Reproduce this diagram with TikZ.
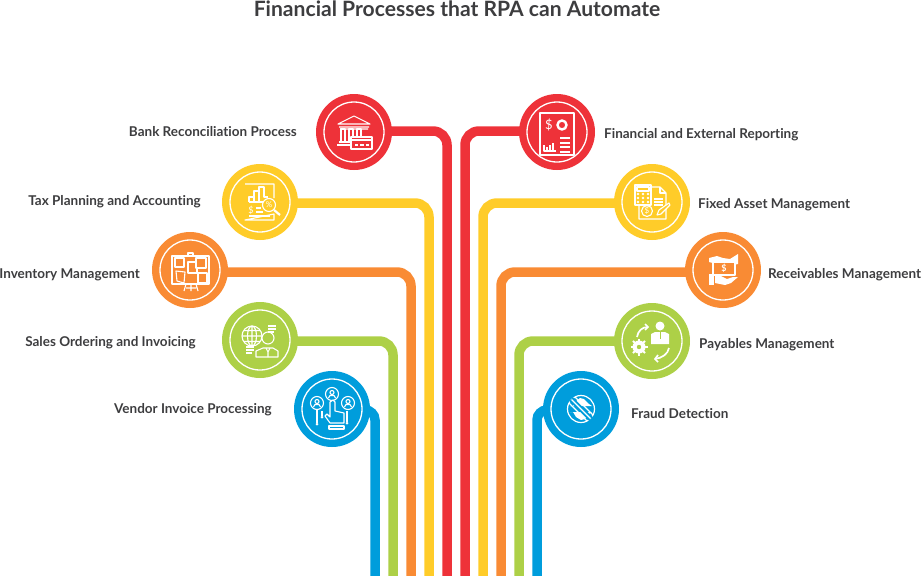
\documentclass[tikz,border=0pt]{standalone}
\usepackage{fontspec}
\setmainfont{Lato}[Ligatures=NoCommon]
\definecolor{cred}{HTML}{EE3239}
\definecolor{cyel}{HTML}{FFCC29}
\definecolor{cora}{HTML}{F98B34}
\definecolor{cgre}{HTML}{ADD047}
\definecolor{cblu}{HTML}{009DDC}
\definecolor{ctxt}{HTML}{3D3D3F}
\pgfdeclarelayer{bg}
\pgfsetlayers{bg,main}
\tikzset{
  disc/.style={circle,minimum size=76pt,inner sep=0pt,fill=#1},
  wire/.style={line width=9.5pt,draw=#1,rounded corners=14pt},
  labelL/.style={anchor=east,text=ctxt,font=\fontsize{13.5pt}{15pt}\selectfont\bfseries,inner sep=0pt},
  labelR/.style={anchor=west,text=ctxt,font=\fontsize{13.5pt}{15pt}\selectfont\bfseries,inner sep=0pt},
  ic/.style={draw=white,line width=1.1pt,line join=round},
  ring/.style={draw=white,line width=1.3pt}
}
\newcommand{\icbank}{
  \draw[ring] (0,0) circle[radius=30pt];
  \draw[ic] (-16,-8)--(0,-16)--(16,-8)--cycle (-15,-5)--(15,-5) (-14,-3)--(14,-3);
  \foreach \c in {-11,-3,5}{\draw[ic] (\c-2,-3) rectangle (\c+2,10);}
  \draw[ic] (-15,10)--(-3,10) (-17,13)--(-3,13);
  \draw[ic,fill=cred] (-3,5) rectangle (18,17);
  \draw[ic] (-3,8)--(18,8) (1,13)--(4,13) (6,13)--(10,13) (12,13)--(15,13);
}
\newcommand{\icreport}{
  \draw[ring] (0,0) circle[radius=30pt];
  \draw[ic] (-17,-19) rectangle (17,23);
  \node[text=white,font=\fontsize{13pt}{13pt}\selectfont,inner sep=0pt] at (-8,-7) {\$};
  \draw[white,line width=2.4pt] (5,-7) circle[radius=4.5pt];
  \draw[ic] (-13,13)--(-13,19)--(-1,19);
  \draw[white,line width=1.8pt] (-10,18)--(-10,15) (-7,18)--(-7,13) (-4,18)--(-4,11);
  \draw[white,line width=1.2pt] (3,6)--(13,6) (3,11)--(13,11) (3,15)--(13,15) (3,20)--(13,20);
}
\newcommand{\icasset}{
  \draw[ring] (0,0) circle[radius=30pt];
  \draw[ic] (-1,-15)--(8,-15)--(14,-9)--(14,17)--(-13,17)--(-13,3);
  \draw[ic] (8,-15)--(8,-9)--(14,-9);
  \draw[ic,fill=cyel] (-17,-17) rectangle (-1,3);
  \draw[ic] (-15,-15) rectangle (-3,-11);
  \foreach \px in {-14,-9,-4}{\foreach \py in {-8,-4,0}{\fill[white] (\px,\py) circle[radius=1.3pt];}}
  \draw[ic] (2,-3)--(11,-3) (2,0)--(11,0) (2,3)--(11,3);
  \draw[ic] (-5,9) circle[radius=5.5pt];
  \node[text=white,font=\fontsize{8pt}{8pt}\selectfont,inner sep=0pt] at (-5,9) {\$};
  \draw[ic,fill=cyel] (5,13)--(7,8)--(17,1)--(18,3)--(9,12)--cycle;
}
\newcommand{\ictax}{
  \draw[ring] (0,0) circle[radius=30pt];
  \draw[ic] (-15,-18)--(14,-18)--(14,-4) (14,12)--(14,18)--(-15,18)--cycle;
  \draw[ic] (-11,0)--(-11,-5)--(-6,-5)--(-6,-11)--(-1,-11)--(-1,-15)--(4,-15)--(4,-5)--(8,-5) (-11,0)--(3,0);
  \draw[ic] (-1,-11)--(-1,0) (-6,-5)--(-6,0);
  \draw[ic,fill=cyel] (9,3) circle[radius=6.5pt];
  \draw[white,line width=2.2pt] (14,8)--(20,13);
  \node[text=white,font=\fontsize{8pt}{8pt}\selectfont,inner sep=0pt] at (9,3) {\%};
  \node[text=white,font=\fontsize{9pt}{9pt}\selectfont,inner sep=0pt] at (-9,8) {\$};
  \draw[ic] (-4,6)--(1,6) (-4,10)--(3,10) (-11,14)--(10,14);
}
\newcommand{\icboard}{
  \draw[ring] (0,0) circle[radius=30pt];
  \draw[ic] (-18,-14) rectangle (19,14);
  \draw[ic] (-2,-14)--(-2,-17)--(3,-17)--(3,-14);
  \draw[ic] (-4,14)--(-6,21) (1,14)--(1,21) (6,14)--(8,21) (-4,18)--(6,18);
  \draw[ic,fill=cora] (-15,-12) rectangle (-6,-3);
  \draw[ic,fill=cora] (-2,-8) rectangle (7,3);
  \draw[ic,fill=cora] (6,-12) rectangle (16,-2);
  \draw[ic,fill=cora] (-14,1)--(-5,2)--(-6,13)--(-13,11)--cycle;
  \draw[ic,fill=cora] (8,3) rectangle (17,13);
}
\newcommand{\icglobe}{
  \draw[ring] (0,0) circle[radius=30pt];
  \draw[ic] (-8,-4) circle[radius=10pt];
  \draw[ic] (-8,-4) ellipse[x radius=4.5pt,y radius=10pt] (-18,-4)--(2,-4) (-16,-9.5)--(0,-9.5) (-16,1.5)--(0,1.5) (-8,-14)--(-8,6);
  \draw[ic,fill=cgre] (8,-2) circle[radius=6pt];
  \draw[ic,fill=cgre] (-4,17)--(-4,11)--(3,8)--(13,8)--(18,11)--(18,17)--cycle;
  \draw[ic] (6,8)--(8,12)--(10,8) (8,12)--(8,17);
  \draw[white,line width=1.2pt] (8,-14)--(16,-14) (8,-11)--(16,-11) (8,-8)--(14,-8);
  \draw[white,line width=1.2pt] (-14,7)--(-6,7) (-14,10)--(-6,10) (-14,13)--(-8,13);
}
\newcommand{\ichand}{
  \draw[ring] (0,0) circle[radius=30pt];
  \foreach \px/\py in {-15/-6,0/-15,16/-6}{
    \draw[ic] (\px,\py) circle[radius=6.5pt];
    \draw[ic] (\px,\py-1.5) circle[radius=2pt];
    \draw[ic] (\px-3.5,\py+4)--(\px-2,\py+1.5)--(\px+2,\py+1.5)--(\px+3.5,\py+4);
  }
  \draw[ic,fill=cblu] (-2,14)--(-7,7)--(-5,5)--(-2,8)--(-2,-7)--(1,-9)--(3,-7)--(3,2)--(12,4)--(12,14)--cycle;
  \draw[ic] (-3,17) rectangle (12,20);
  \draw[ic] (-15,1)--(-15,14) (-10,2)--(-10,7) (15,2)--(15,13);
  \fill[white] (-15,15) circle[radius=1.5pt] (-10,8) circle[radius=1.5pt] (15,14) circle[radius=1.5pt];
}
\newcommand{\icmoney}{
  \draw[ring] (0,0) circle[radius=30pt];
  \fill[white] (-14,-12)--(-6,-14)--(0,-12)--(7,-11)--(15,-16)--(15,-6)--(6,-4)--(-6,-6)--(-14,-8)--cycle;
  \draw[ic,fill=cora,line width=1.3pt] (-10,-8) rectangle (12,5);
  \node[text=white,font=\fontsize{9pt}{9pt}\selectfont\bfseries,inner sep=0pt] at (1,-2) {\$};
  \fill[white] (-14,4) rectangle (-9,15);
  \fill[white] (-8,5)--(-2,6)--(4,9)--(10,7)--(15,7)--(8,13)--(2,15)--(-8,13)--cycle;
}
\newcommand{\icpay}{
  \draw[ring] (0,0) circle[radius=30pt];
  \fill[white] (8,-15) circle[radius=4.5pt];
  \fill[white] (-1,3) -- (-1,-7) -- (3,-9) -- (13,-9) -- (17,-7) -- (17,3) -- cycle;
  \draw[draw=cgre,line width=0.9pt] (8,-9)--(8,-2);
  \fill[white] (-13,6) circle[radius=6.5pt];
  \fill[cgre] (-13,6) circle[radius=2.2pt];
  \foreach \a in {0,45,...,315}{\draw[white,line width=2pt] (-13,6)++(\a:5pt)--++(\a:3.5pt);}
  \draw[white,line width=1.7pt] (-15,-4) .. controls (-14,-10) and (-10,-14) .. (-4,-14);
  \draw[white,line width=1.7pt] (-7,-17)--(-4,-14)--(-7,-11);
  \draw[white,line width=1.7pt] (17,7) .. controls (16,13) and (10,17) .. (3,18);
  \draw[white,line width=1.7pt] (6,14)--(3,18)--(6,21);
}
\newcommand{\icfraud}{
  \draw[ring] (0,0) circle[radius=30pt];
  \draw[white,line width=1.2pt] (0,0) circle[radius=13.5pt];
  \fill[white] (-11,-3)--(-8,-3)--(-6,-7)--(-1,-11)--(3,-10)--(8,-5)--(11,-3)--cycle;
  \fill[white] (-11,3)--(-8,3)--(-5,8)--(0,11)--(4,10)--(8,5)--(11,3)--cycle;
  \draw[cblu,line width=5pt] (-10,-10)--(10,10);
  \draw[white,line width=1.3pt] (-9.5,-9.5)--(9.5,9.5);
  \draw[white,line width=1.3pt] (-12,-6)--(6,12) (-6,-12)--(12,6);
}
\begin{document}
\begin{tikzpicture}[x=1pt,y=-1pt]
\useasboundingbox (0,0) rectangle (922,576);
\node[text=ctxt,font=\fontsize{21.1pt}{24pt}\selectfont\bfseries,inner sep=0pt] (title) at (457,9) {Financial Processes that RPA can Automate};

\node[disc=cred] (n1) at (354,132) {};
\node[disc=cyel] (n2) at (260,202) {};
\node[disc=cora] (n3) at (190,270) {};
\node[disc=cgre] (n4) at (260,340) {};
\node[disc=cblu] (n5) at (332,409) {};
\node[disc=cred] (m1) at (557,132) {};
\node[disc=cyel] (m2) at (652,202) {};
\node[disc=cora] (m3) at (723,270) {};
\node[disc=cgre] (m4) at (652,341) {};
\node[disc=cblu] (m5) at (581,409) {};

\coordinate (b1) at (447,576);
\coordinate (b2) at (429,576);
\coordinate (b3) at (411,576);
\coordinate (b4) at (393,576);
\coordinate (b5) at (375,576);
\coordinate (d1) at (465,576);
\coordinate (d2) at (483,576);
\coordinate (d3) at (501,576);
\coordinate (d4) at (519,576);
\coordinate (d5) at (537,576);

\begin{pgfonlayer}{bg}
\draw[wire=cred] (n1.center |- 447,131) -- (447,131) -- (b1);
\draw[wire=cyel] (n2.center |- 429,203) -- (429,203) -- (b2);
\draw[wire=cora] (n3.center |- 411,272) -- (411,272) -- (b3);
\draw[wire=cgre] (n4.center |- 393,341) -- (393,341) -- (b4);
\draw[wire=cblu,rounded corners=10pt] (n5.center |- 375,410) -- (375,410) -- (b5);
\draw[wire=cred] (m1.center |- 465,131) -- (465,131) -- (d1);
\draw[wire=cyel] (m2.center |- 483,203) -- (483,203) -- (d2);
\draw[wire=cora] (m3.center |- 501,272) -- (501,272) -- (d3);
\draw[wire=cgre] (m4.center |- 519,341) -- (519,341) -- (d4);
\draw[wire=cblu,rounded corners=10pt] (m5.center |- 537,410) -- (537,410) -- (d5);
\end{pgfonlayer}

\begin{scope}[shift={(n1.center)}]\icbank\end{scope}
\begin{scope}[shift={(n2.center)}]\ictax\end{scope}
\begin{scope}[shift={(n3.center)}]\icboard\end{scope}
\begin{scope}[shift={(n4.center)}]\icglobe\end{scope}
\begin{scope}[shift={(n5.center)}]\ichand\end{scope}
\begin{scope}[shift={(m1.center)}]\icreport\end{scope}
\begin{scope}[shift={(m2.center)}]\icasset\end{scope}
\begin{scope}[shift={(m3.center)}]\icmoney\end{scope}
\begin{scope}[shift={(m4.center)}]\icpay\end{scope}
\begin{scope}[shift={(m5.center)}]\icfraud\end{scope}

\node[labelL] (l1) at (297,131.5) {Bank Reconciliation Process};
\node[labelL] (l2) at (201,201.5) {Tax Planning and Accounting};
\node[labelL] (l3) at (140,274.5) {Inventory Management};
\node[labelL] (l4) at (196,342.5) {Sales Ordering and Invoicing};
\node[labelL] (l5) at (272,409.5) {Vendor Invoice Processing};
\node[labelR] (r1) at (604,134.5) {Financial and External Reporting};
\node[labelR] (r2) at (698,204.5) {Fixed Asset Management};
\node[labelR] (r3) at (768,274.5) {Receivables Management};
\node[labelR] (r4) at (699,344.5) {Payables Management};
\node[labelR] (r5) at (631,413.5) {Fraud Detection};
\end{tikzpicture}
\end{document}
